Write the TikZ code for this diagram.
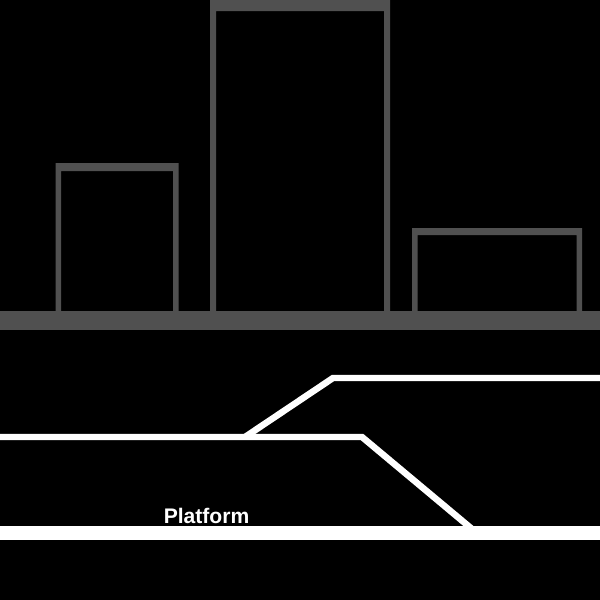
\documentclass[tikz,border=0pt]{standalone}
\usepackage{fontspec}
\setmainfont{Liberation Sans}
\definecolor{wallgray}{RGB}{80, 80, 80}
\usetikzlibrary{positioning}

\begin{document}
\begin{tikzpicture}[
        x=0.025cm, y=-0.025cm,
        building/.style={fill=wallgray, even odd rule},
        track/.style={draw=white, line width=4.6pt, line join=miter},
        label/.style={text=white, font=\fontsize{15}{18}\selectfont\bfseries, inner sep=0pt}
    ]
        % Background
        \useasboundingbox (0,0) rectangle (600,600);
        \fill[black] (0,0) rectangle (600,600);
        \clip (0,0) rectangle (600,600);

        % Buildings (outer minus inner)
        \fill[building] (55.5,311) rectangle (178.5,163) (61,312) rectangle (173,171);
        \fill[building] (210,311) rectangle (390,0) (216,312) rectangle (384,11);
        \fill[building] (412,311) rectangle (582,228) (417.5,312) rectangle (576.5,235);

        % Ground
        \fill[wallgray] (0,311) rectangle (600,330);

        % Tracks
        \draw[track] (605,378) -- (333,378) -- (245,437);
        \draw[track] (-5,437) -- (362,437) -- (478,534);
        \fill[white] (0,526) rectangle (600,540);

        % Label
        \node[label, anchor=base west] (platformlabel) at (163.5,523) {Platform};
    \end{tikzpicture}
\end{document}
